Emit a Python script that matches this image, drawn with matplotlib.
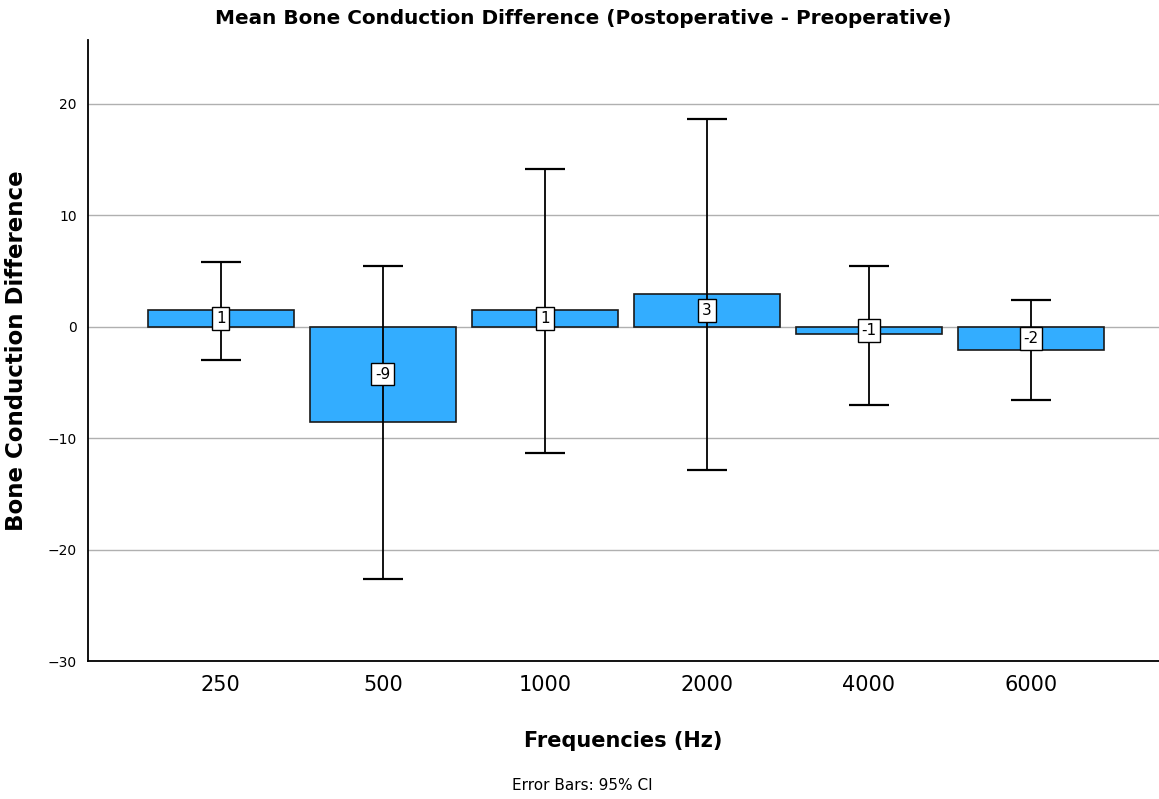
from matplotlib import pyplot
import numpy

frequencies = ['250', '500', '1000', '2000', '4000', '6000']
mean_diff = [1.45, -8.55, 1.45, 2.9, -0.7, -2.15]
ci_upper = [5.8, 5.45, 14.15, 18.6, 5.45, 2.4]
ci_lower = [-3.0, -22.6, -11.3, -12.9, -7.0, -6.6]

fig = pyplot.figure(figsize=(11.59, 7.99), dpi=100)
ax = fig.add_axes([0.0759, 0.1727, 0.9241, 0.7773])

x = numpy.arange(len(frequencies))
mean_diff = numpy.array(mean_diff)
yerr = numpy.array([mean_diff - numpy.array(ci_lower), numpy.array(ci_upper) - mean_diff])

ax.set_axisbelow(True)
ax.grid(axis='y', color='#b0b0b0', linewidth=1)
ax.bar(x, mean_diff, width=0.9, color='#33adff', edgecolor='#1a1a1a', linewidth=1.2, zorder=2)
ax.errorbar(x, mean_diff, yerr=yerr, fmt='none', ecolor='black', elinewidth=1.3,
            capsize=14.5, capthick=1.6, zorder=3)

for xi, v in zip(x, mean_diff):
    ax.text(xi, v / 2, str(int(round(v))), ha='center', va='center',
            fontsize=11, zorder=4,
            bbox=dict(boxstyle='square,pad=0.25', facecolor='white', edgecolor='black', linewidth=1))

ax.set_xlim(-0.82, 5.79)
ax.set_ylim(-30, 25.7)
ax.set_yticks([-30, -20, -10, 0, 10, 20])
ax.set_xticks(x)
ax.set_xticklabels(frequencies, fontsize=15)
ax.tick_params(axis='y', length=0, labelsize=10, pad=8)
ax.tick_params(axis='x', length=0, pad=10)
ax.spines['top'].set_visible(False)
ax.spines['right'].set_visible(False)
ax.spines['left'].set_linewidth(1.3)
ax.spines['bottom'].set_linewidth(1.3)

ax.set_ylabel('Bone Conduction Difference', fontsize=16.5, fontweight='bold', labelpad=14)
ax.set_xlabel('Frequencies (Hz)', fontsize=15, fontweight='bold', labelpad=26)
fig.text(0.503, 0.977, 'Mean Bone Conduction Difference (Postoperative - Preoperative)',
         ha='center', va='center', fontsize=14.4, fontweight='bold')
fig.text(0.502, 0.017, 'Error Bars: 95% CI', ha='center', va='center', fontsize=11)

fig.savefig('out.png')
